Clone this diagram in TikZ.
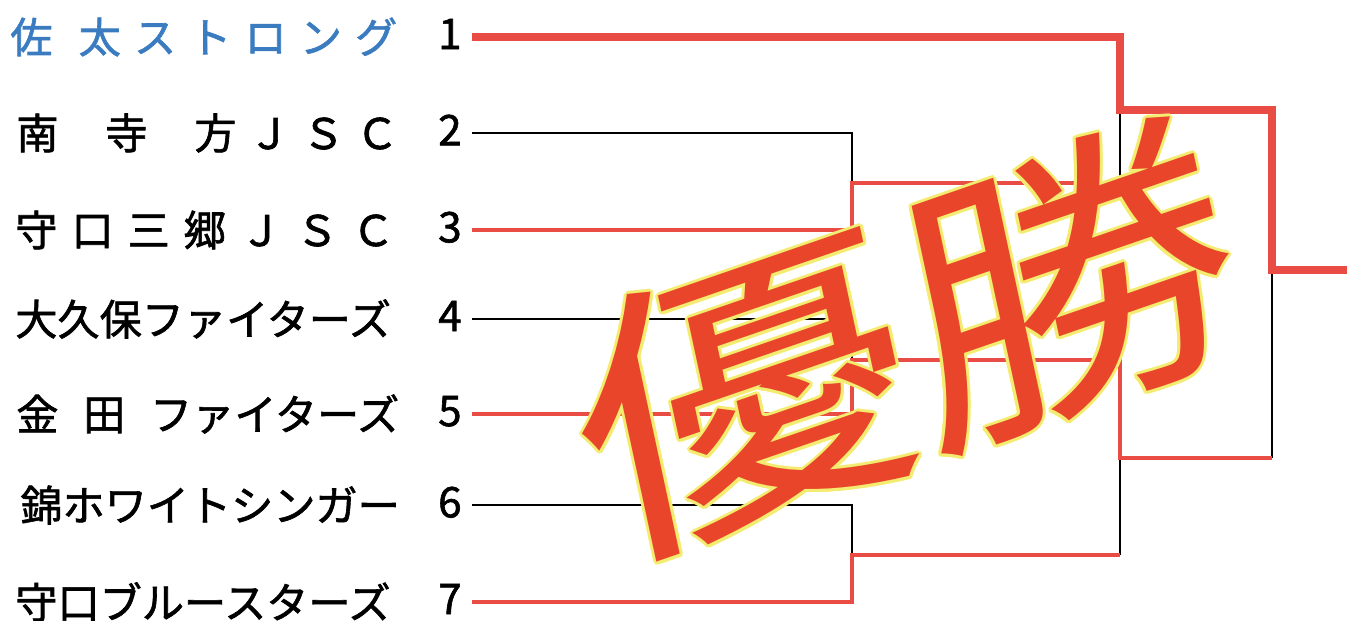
\documentclass[tikz,border=0pt]{standalone}
\usepackage{fontspec}
\setmainfont{Noto Sans CJK JP}
\newfontfamily\bracketfont{Noto Sans CJK JP}[RawFeature={embolden=1.5}]
\usetikzlibrary{calc}
\definecolor{winred}{HTML}{E94B45}
\definecolor{teamblue}{HTML}{3B7CC0}
\definecolor{stampred}{HTML}{E8452A}
\definecolor{stampedge}{HTML}{F4EC70}
\begin{document}
\begin{tikzpicture}[x=0.02cm,y=-0.02cm,
  team/.style={anchor=west,inner sep=0pt,font=\bracketfont\fontsize{24}{24}\selectfont},
  seed/.style={anchor=east,inner xsep=0.2cm,inner ysep=0pt,text depth=0.12cm,font=\bracketfont\fontsize{24}{24}\selectfont},
  loss/.style={black,line width=1.3pt},
  win/.style={winred,line width=2.5pt},
  champ/.style={winred,line width=4.3pt},
  stamp/.style={rotate=19,xscale=1.03,yscale=0.86,xslant=0.1,inner sep=0pt,font=\fontsize{190}{190}\selectfont}]
\useasboundingbox (0,0) rectangle (1347,621);
\node[team,teamblue] (t1) at (10,37) {\makebox[7.74cm][s]{佐\hfill\hfill 太\hfill ス\hfill ト\hfill ロ\hfill ン\hfill グ}};
\node[team] (t2) at (16,133) {\makebox[7.64cm][s]{南\hspace{\stretch{4}}寺\hspace{\stretch{4}}方\hfill Ｊ\hfill Ｓ\hfill Ｃ}};
\node[team] (t3) at (15,230) {\makebox[7.58cm][s]{守\hfill 口\hfill 三\hfill 郷\hfill Ｊ\hfill Ｓ\hfill Ｃ}};
\node[team] (t4) at (15,319) {大久保ファイターズ};
\node[team] (t5) at (16,414) {\makebox[7.66cm][s]{金\hfill 田\hfill ファイターズ}};
\node[team] (t6) at (20,505) {錦ホワイトシンガー};
\node[team] (t7) at (15,602) {守口ブルースターズ};
\node[seed] (n1) at (472,37) {1};
\node[seed] (n2) at (472,133) {2};
\node[seed] (n3) at (472,230) {3};
\node[seed] (n4) at (472,319) {4};
\node[seed] (n5) at (472,414) {5};
\node[seed] (n6) at (472,505) {6};
\node[seed] (n7) at (472,602) {7};
\coordinate (a) at (852,183);
\coordinate (b) at (852,360);
\coordinate (c) at (852,555);
\coordinate (s1) at (1120,110);
\coordinate (s2) at (1120,458);
\coordinate (f) at (1272,270);
\coordinate (end) at (1347,270);
\draw[loss] (n2.east) -| (a);
\draw[loss] (n4.east) -| (b);
\draw[loss] (n6.east) -| (c);
\draw[loss] (a -| s1) -- (s1);
\draw[loss] (c -| s2) -- (s2);
\draw[loss] (s2 -| f) -- (f);
\draw[win] (n3.east) -| (a) -- (a -| s1);
\draw[win] (n5.east) -| (b) -- (b -| s2) -- (s2) -- (s2 -| f);
\draw[win] (n7.east) -| (c) -- (c -| s2);
\draw[champ] (n1.east) -| (s1) -| (f) -- (end);
\foreach \a in {0,30,...,330}
  \node[stamp,stampedge] (edge\a) at ($(905,338)+(\a:3)$) {優勝};
\node[stamp,stampred] (yusho) at (905,338) {優勝};
\end{tikzpicture}
\end{document}
